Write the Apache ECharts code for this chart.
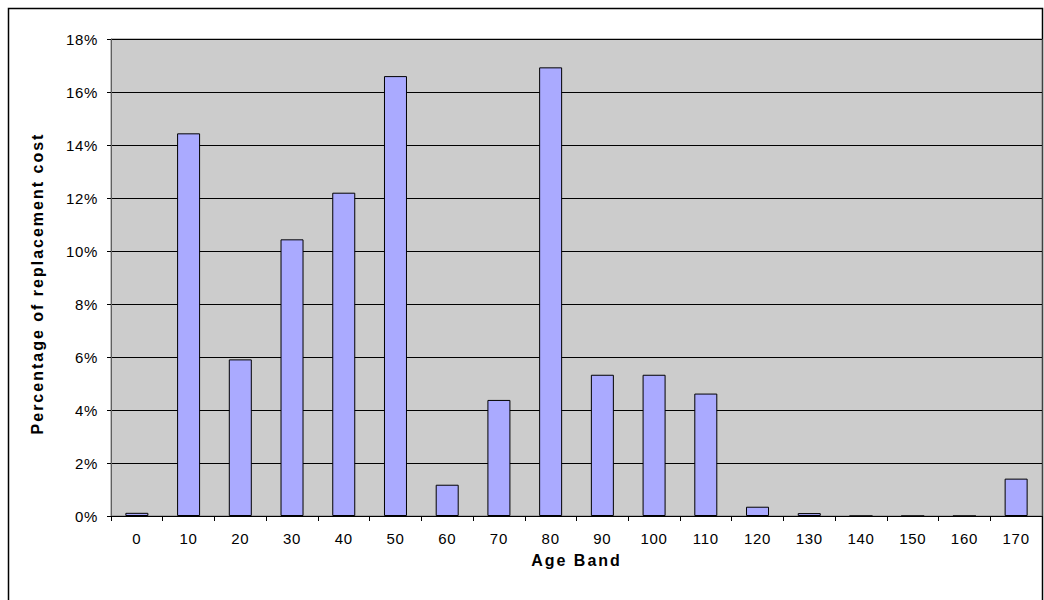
<!DOCTYPE html>
<html>
<head>
<meta charset="utf-8">
<script src="https://cdn.jsdelivr.net/npm/echarts@6/dist/echarts.min.js"></script>
<style>
html,body{margin:0;padding:0;background:#fff}
#c{width:1044px;height:600px}
#c svg text{letter-spacing:0.7px}
#c svg text[style*="bold"]{letter-spacing:2px}
</style>
</head>
<body>
<div id="c"></div>
<script>
const categories = ['0','10','20','30','40','50','60','70','80','90','100','110','120','130','140','150','160','170'];
const values = [0.0012,0.1444,0.0591,0.1044,0.1220,0.1660,0.0118,0.0438,0.1693,0.0533,0.0533,0.0462,0.0035,0.0011,0,0,0,0.0141];
const yTicks = [0,0.02,0.04,0.06,0.08,0.10,0.12,0.14,0.16,0.18];
const xTitle = 'Age Band';
const yTitle = 'Percentage of replacement cost';

const chart = echarts.init(document.getElementById('c'), null, {renderer:'svg'});
const font = 'Liberation Sans, Arial, sans-serif';
chart.setOption({
  animation:false,
  backgroundColor:'#fff',
  graphic:[{type:'rect',shape:{x:8.5,y:8.5,width:1034,height:700},style:{fill:'none',stroke:'#000',lineWidth:1.5},z:-1}],
  grid:{left:111,right:2,top:39,bottom:84,show:true,backgroundColor:'#cccccc',borderColor:'#808080',borderWidth:1},
  xAxis:{
    type:'category',data:categories,boundaryGap:true,
    name:xTitle,nameLocation:'middle',nameGap:36,
    nameTextStyle:{fontFamily:font,fontWeight:'bold',fontSize:16,color:'#000'},
    axisLine:{lineStyle:{color:'#000',width:1}},
    axisTick:{show:true,alignWithLabel:false,length:5,lineStyle:{color:'#000'}},
    axisLabel:{fontFamily:font,fontSize:15,color:'#000',margin:15},
    splitLine:{show:false}
  },
  yAxis:{
    type:'value',min:yTicks[0],max:yTicks[yTicks.length-1],interval:0.02,
    name:yTitle,nameLocation:'middle',nameGap:66,
    nameTextStyle:{fontFamily:font,fontWeight:'bold',fontSize:16,color:'#000',padding:[0,12,0,0]},
    axisLine:{show:true,lineStyle:{color:'#606060',width:1}},
    axisTick:{show:true,length:4,lineStyle:{color:'#000'}},
    axisLabel:{fontFamily:font,fontSize:15,color:'#000',margin:13,formatter:v=>Math.round(v*100)+'%'},
    splitLine:{show:true,lineStyle:{color:'#000',width:1}}
  },
  series:[{
    type:'bar',data:values,barWidth:23,
    itemStyle:{color:'#aaaaff',borderColor:'#000',borderWidth:1}
  }]
});
</script>
</body>
</html>
